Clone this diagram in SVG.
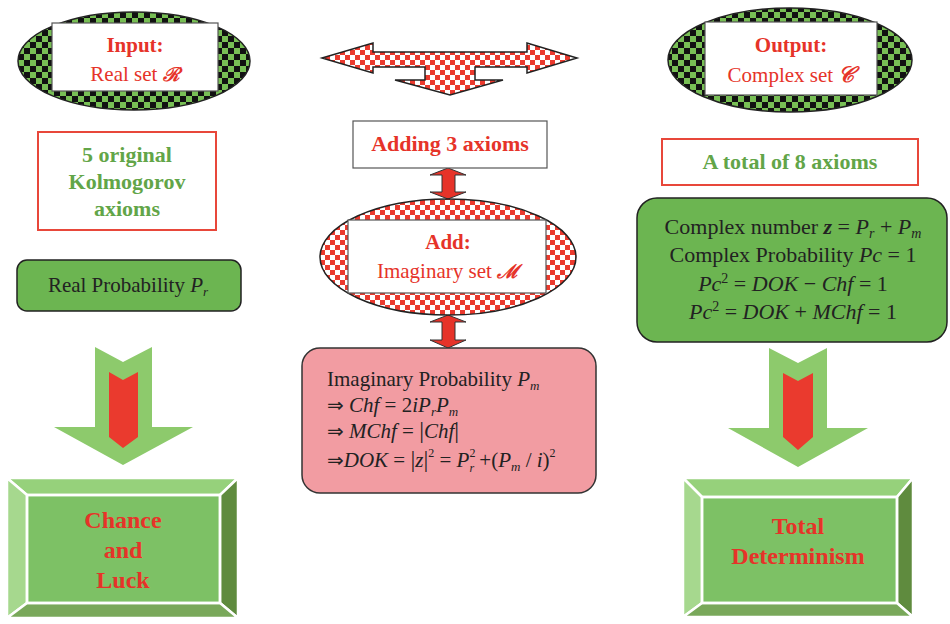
<svg xmlns="http://www.w3.org/2000/svg" width="950" height="624" viewBox="0 0 950 624">
<defs>
<pattern id="gchk" width="12" height="12" patternUnits="userSpaceOnUse">
<rect width="12" height="12" fill="#78bf55"/>
<rect width="6" height="6" fill="#111"/>
<rect x="6" y="6" width="6" height="6" fill="#111"/>
</pattern>
<pattern id="rchk" width="10" height="10" patternUnits="userSpaceOnUse">
<rect width="10" height="10" fill="#fff"/>
<rect width="5" height="5" fill="#ea3a2e"/>
<rect x="5" y="5" width="5" height="5" fill="#ea3a2e"/>
</pattern>
<style>
text{font-family:"Liberation Serif","Times New Roman",serif;text-anchor:middle}
.rb{fill:#e63329;font-weight:bold}
.rr{fill:#e63329}
.gb{fill:#62a548;font-weight:bold}
.blk{fill:#222}
.it{font-style:italic}
.axbox{fill:#fff;stroke:#e8473a;stroke-width:2}
.wbox{fill:#fff;stroke:#555;stroke-width:1.2}
.gbox{fill:#6cb551;stroke:#222;stroke-width:1.5}
.garrow{fill:#8dca6c}
.rarrow{fill:#ea3a2e}
.conn{fill:#e63329;stroke:#333;stroke-width:1}
.bev{stroke:#fff;stroke-width:2.5;stroke-linejoin:miter}
</style>
</defs>

<g id="connectors">
<path class="conn" d="M442,175 L430,175 L448,168 L466,175 L455,175 L455,192 L466,192 L448,199 L430,192 L442,192 Z"/>
<path class="conn" d="M442,322 L430,322 L448,315 L466,322 L455,322 L455,340 L466,340 L448,348 L430,340 L442,340 Z"/>
<path fill="url(#rchk)" stroke="#222" stroke-width="1.5" d="M322,58 L373,43 L373,52 L527,52 L527,43 L577,58 L527,73 L527,67 L475,67 L475,80 L503,80 L450,95 L395,80 L425,80 L425,67 L373,67 L373,73 Z"/>
<g id="arrow-left">
<path class="garrow" d="M95,347 L123,362 L152,347 L152,427 L193,427 L123,465 L54,427 L95,427 Z"/>
<path class="rarrow" d="M109,372 L123,380 L138,372 L138,437 L123,448 L109,437 Z"/>
</g>
<g id="arrow-right">
<path class="garrow" d="M769,348 L798,363 L827,348 L827,428 L868,428 L798,467 L728,428 L769,428 Z"/>
<path class="rarrow" d="M783,373 L798,381 L813,373 L813,437 L798,450 L783,437 Z"/>
</g>
</g>

<g id="input">
<ellipse cx="134" cy="61" rx="116" ry="49" fill="url(#gchk)" stroke="#222" stroke-width="1.5"/>
<rect class="wbox" x="52" y="23" width="166" height="68"/>
<text class="rb" x="135" y="52" font-size="21">Input:</text>
<text class="rr" x="135" y="81" font-size="21">Real set <tspan font-weight="bold" font-style="italic" font-family="DejaVu Serif, serif" font-size="19">ℛ</tspan></text>
</g>

<g id="output">
<ellipse cx="790" cy="60" rx="122" ry="52" fill="url(#gchk)" stroke="#222" stroke-width="1.5"/>
<rect class="wbox" x="705" y="22" width="172" height="73"/>
<text class="rb" x="791" y="52" font-size="21">Output:</text>
<text class="rr" x="791" y="82" font-size="21">Complex set <tspan font-weight="bold" font-style="italic" font-family="DejaVu Serif, serif" font-size="22">𝒞</tspan></text>
</g>

<g id="adding">
<rect class="wbox" x="353" y="121" width="194" height="47"/>
<text class="rb" x="450" y="151" font-size="22">Adding 3 axioms</text>
</g>

<g id="add">
<ellipse cx="448" cy="257" rx="128" ry="58" fill="url(#rchk)" stroke="#222" stroke-width="1.5"/>
<rect class="wbox" x="348" y="220" width="198" height="73"/>
<text class="rb" x="448" y="249" font-size="21">Add:</text>
<text class="rr" x="448" y="278" font-size="21">Imaginary set <tspan font-weight="bold" font-style="italic" font-family="DejaVu Serif, serif" font-size="19">ℳ</tspan></text>
</g>

<g id="imaginary">
<rect x="302" y="348" width="294" height="145" rx="18" fill="#f29ca2" stroke="#333" stroke-width="1.5"/>
<g font-size="21" class="blk">
<text x="327" y="386" style="text-anchor:start">Imaginary Probability <tspan class="it">P</tspan><tspan class="it" font-size="13" dy="4">m</tspan></text>
<text x="327" y="412" style="text-anchor:start"><tspan font-family="DejaVu Sans, sans-serif" font-size="20">⇒</tspan> <tspan class="it">Chf</tspan> = 2<tspan class="it">iP</tspan><tspan class="it" font-size="13" dy="4">r</tspan><tspan class="it" dy="-4">P</tspan><tspan class="it" font-size="13" dy="4">m</tspan></text>
<text x="327" y="438" style="text-anchor:start"><tspan font-family="DejaVu Sans, sans-serif" font-size="20">⇒</tspan> <tspan class="it">MChf</tspan>  =  <tspan font-size="24">|</tspan><tspan class="it">Chf</tspan><tspan font-size="24">|</tspan></text>
<text x="327" y="467" style="text-anchor:start"><tspan font-family="DejaVu Sans, sans-serif" font-size="20">⇒</tspan><tspan class="it">DOK</tspan> = <tspan font-size="24">|</tspan><tspan class="it">z</tspan><tspan font-size="24">|</tspan><tspan font-size="12" dy="-10">2</tspan><tspan dy="10"> = </tspan><tspan class="it">P</tspan><tspan font-size="12" dy="-10">2</tspan><tspan class="it" font-size="12" dx="-6" dy="15">r</tspan><tspan dy="-5"> +(</tspan><tspan class="it">P</tspan><tspan class="it" font-size="13" dy="4">m</tspan><tspan dy="-4"> / </tspan><tspan class="it">i</tspan>)<tspan font-size="12" dy="-10">2</tspan></text>
</g>
</g>

<g id="kolmogorov">
<rect class="axbox" x="38" y="132" width="178" height="98"/>
<text class="gb" x="127" y="162" font-size="22">5 original</text>
<text class="gb" x="127" y="189" font-size="22">Kolmogorov</text>
<text class="gb" x="127" y="216" font-size="22">axioms</text>
</g>

<g id="realprob">
<rect class="gbox" x="17" y="260" width="224" height="51" rx="10"/>
<text class="blk" x="128" y="292" font-size="21">Real Probability <tspan class="it">P</tspan><tspan class="it" font-size="13" dy="4">r</tspan></text>
</g>

<g id="total8">
<rect class="axbox" x="662" y="139" width="256" height="46"/>
<text class="gb" x="790" y="169" font-size="22">A total of 8 axioms</text>
</g>

<g id="complex">
<rect class="gbox" x="637" y="198" width="310" height="144" rx="20"/>
<text class="blk" x="793" y="234" font-size="22">Complex number  <tspan class="it" font-weight="bold">z</tspan> = <tspan class="it">P</tspan><tspan class="it" font-size="14" dy="4">r</tspan><tspan dy="-4"> + </tspan><tspan class="it">P</tspan><tspan class="it" font-size="14" dy="4">m</tspan></text>
<text class="blk" x="793" y="262" font-size="22">Complex Probability <tspan class="it">Pc</tspan> = 1</text>
<text class="blk" x="793" y="291" font-size="22"><tspan class="it">Pc</tspan><tspan font-size="14" dy="-8">2</tspan><tspan dy="8"> = </tspan><tspan class="it">DOK</tspan> − <tspan class="it">Chf</tspan> = 1</text>
<text class="blk" x="793" y="319" font-size="22"><tspan class="it">Pc</tspan><tspan font-size="14" dy="-8">2</tspan><tspan dy="8"> = </tspan><tspan class="it">DOK</tspan> + <tspan class="it">MChf</tspan> = 1</text>
</g>

<g id="chance">
<rect x="27" y="495" width="193" height="108" fill="#7dc165"/>
<path class="bev" fill="#96d17b" d="M7,478 L238,478 L220,495 L27,495 Z"/>
<path class="bev" fill="#a6d88e" d="M7,478 L27,495 L27,603 L7,618 Z"/>
<path class="bev" fill="#5f8b3e" d="M238,478 L238,618 L220,603 L220,495 Z"/>
<path class="bev" fill="#79a85a" d="M7,618 L238,618 L220,603 L27,603 Z"/>
<rect x="27" y="495" width="193" height="108" fill="none" stroke="#fff" stroke-width="2.5"/>
<text class="rb" x="123" y="528" font-size="24">Chance</text>
<text class="rb" x="123" y="558" font-size="24">and</text>
<text class="rb" x="123" y="588" font-size="24">Luck</text>
</g>

<g id="determinism">
<rect x="702" y="497" width="195" height="106" fill="#7dc165"/>
<path class="bev" fill="#96d17b" d="M683,478 L913,478 L897,497 L702,497 Z"/>
<path class="bev" fill="#a6d88e" d="M683,478 L702,497 L702,603 L683,617 Z"/>
<path class="bev" fill="#5f8b3e" d="M913,478 L913,617 L897,603 L897,497 Z"/>
<path class="bev" fill="#79a85a" d="M683,617 L913,617 L897,603 L702,603 Z"/>
<rect x="702" y="497" width="195" height="106" fill="none" stroke="#fff" stroke-width="2.5"/>
<text class="rb" x="798" y="534" font-size="24">Total</text>
<text class="rb" x="798" y="564" font-size="24">Determinism</text>
</g>
</svg>
